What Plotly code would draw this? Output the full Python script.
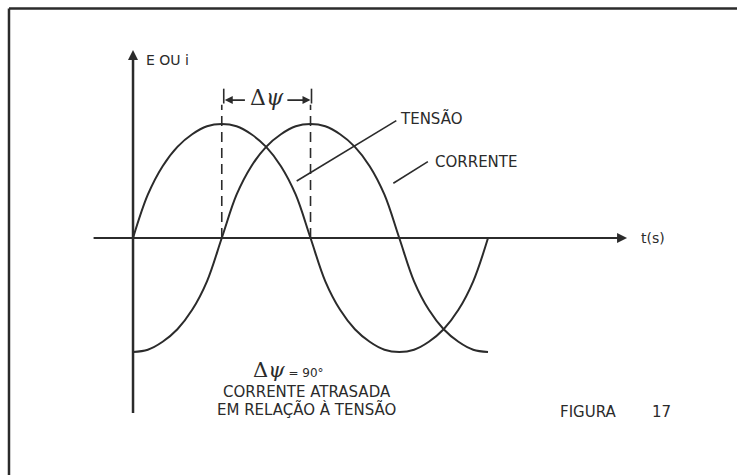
import plotly.graph_objects as go

# phase angle (degrees) and normalised amplitude
angulo = [0, 15, 30, 45, 60, 75, 90, 105, 120, 135, 150, 165, 180,
          195, 210, 225, 240, 255, 270, 285, 300, 315, 330, 345, 360]
tensao = [0.0, 0.38, 0.63, 0.80, 0.91, 0.98, 1.0, 0.98, 0.91, 0.80, 0.63, 0.38, 0.0,
          -0.38, -0.63, -0.80, -0.91, -0.98, -1.0, -0.98, -0.91, -0.80, -0.63, -0.38, 0.0]
corrente = [-1.0, -0.98, -0.91, -0.80, -0.63, -0.38, 0.0, 0.38, 0.63, 0.80, 0.91, 0.98, 1.0,
            0.98, 0.91, 0.80, 0.63, 0.38, 0.0, -0.38, -0.63, -0.80, -0.91, -0.98, -1.0]
defasagem = [90, 180]  # instants marked by the dashed lines

INK = "#2b2b2b"
FONT = "DejaVu Sans"

fig = go.Figure()

# axes drawn as lines
fig.add_trace(go.Scatter(x=[-40, 490], y=[0, 0], mode="lines",
                         line=dict(color=INK, width=2), hoverinfo="skip"))
fig.add_trace(go.Scatter(x=[0, 0], y=[-1.535, 1.6], mode="lines",
                         line=dict(color=INK, width=2.5), hoverinfo="skip"))

# the two waves
fig.add_trace(go.Scatter(x=angulo, y=tensao, mode="lines", name="Tensão",
                         line=dict(color=INK, width=2, shape="spline")))
fig.add_trace(go.Scatter(x=angulo, y=corrente, mode="lines", name="Corrente",
                         line=dict(color=INK, width=2, shape="spline")))

# dashed markers of the phase shift
for t in defasagem:
    fig.add_trace(go.Scatter(x=[t, t], y=[0, 1.17], mode="lines",
                             line=dict(color=INK, width=1.6, dash="10px,6px"),
                             hoverinfo="skip"))

shapes = [
    # frame of the page
    dict(type="line", xref="paper", yref="paper", x0=0.0122, x1=1, y0=0.982, y1=0.982,
         line=dict(color=INK, width=2.5)),
    dict(type="line", xref="paper", yref="paper", x0=0.0122, x1=0.0122, y0=0, y1=0.982,
         line=dict(color=INK, width=2.5)),
    # end ticks of the delta-psi dimension
    dict(type="line", x0=92, x1=92, y0=1.18, y1=1.31, line=dict(color=INK, width=1.6)),
    dict(type="line", x0=181, x1=181, y0=1.18, y1=1.31, line=dict(color=INK, width=1.6)),
    # leader lines of the labels
    dict(type="line", x0=267, y0=1.03, x1=166, y1=0.5, line=dict(color=INK, width=1.6)),
    dict(type="line", x0=299, y0=0.67, x1=264, y1=0.48, line=dict(color=INK, width=1.6)),
]

ann = []
# arrow heads
ann.append(dict(x=501, y=0, ax=475, ay=0, xref="x", yref="y", axref="x", ayref="y",
                text="", showarrow=True, arrowhead=2, arrowsize=1, arrowwidth=2, arrowcolor=INK))
ann.append(dict(x=0, y=1.65, ax=0, ay=1.45, xref="x", yref="y", axref="x", ayref="y",
                text="", showarrow=True, arrowhead=2, arrowsize=1, arrowwidth=2, arrowcolor=INK))
ann.append(dict(x=93, y=1.21, ax=115, ay=1.21, xref="x", yref="y", axref="x", ayref="y",
                text="", showarrow=True, arrowhead=2, arrowsize=1, arrowwidth=1.6, arrowcolor=INK))
ann.append(dict(x=180, y=1.21, ax=155, ay=1.21, xref="x", yref="y", axref="x", ayref="y",
                text="", showarrow=True, arrowhead=2, arrowsize=1, arrowwidth=1.6, arrowcolor=INK))


def texto(x, y, s, size=15, xanchor="left", family=FONT):
    ann.append(dict(x=x, y=y, xref="x", yref="y", text=s, showarrow=False,
                    xanchor=xanchor, yanchor="middle",
                    font=dict(family=family, size=size, color=INK)))


texto(136, 1.23, "Δ<i>ψ</i>", size=22, xanchor="center", family="DejaVu Serif")
texto(11, 1.56, "E OU i", size=14)
texto(269, 1.045, "TENSÃO")
texto(304, 0.67, "CORRENTE")
texto(527, 0, "t(s)", size=14, xanchor="center")
texto(158, -1.16, "Δ<i>ψ</i><span style='font-size:12px;font-family:DejaVu Sans'> = 90°</span>",
      size=21, xanchor="center", family="DejaVu Serif")
texto(176, -1.35, "CORRENTE ATRASADA", xanchor="center")
texto(176, -1.50, "EM RELAÇÃO À TENSÃO", xanchor="center")
texto(431, -1.53, "FIGURA")
texto(524, -1.53, "17")

fig.update_layout(
    width=737, height=475,
    margin=dict(l=0, r=0, t=0, b=0),
    paper_bgcolor="white", plot_bgcolor="white",
    showlegend=False,
    xaxis=dict(range=[-134.9, 612.5], visible=False, fixedrange=True),
    yaxis=dict(range=[-2.079, 2.088], visible=False, fixedrange=True),
    shapes=shapes, annotations=ann,
)

fig.write_html("out.html", config={"displayModeBar": False},
               post_script="document.body.style.margin='0';")
